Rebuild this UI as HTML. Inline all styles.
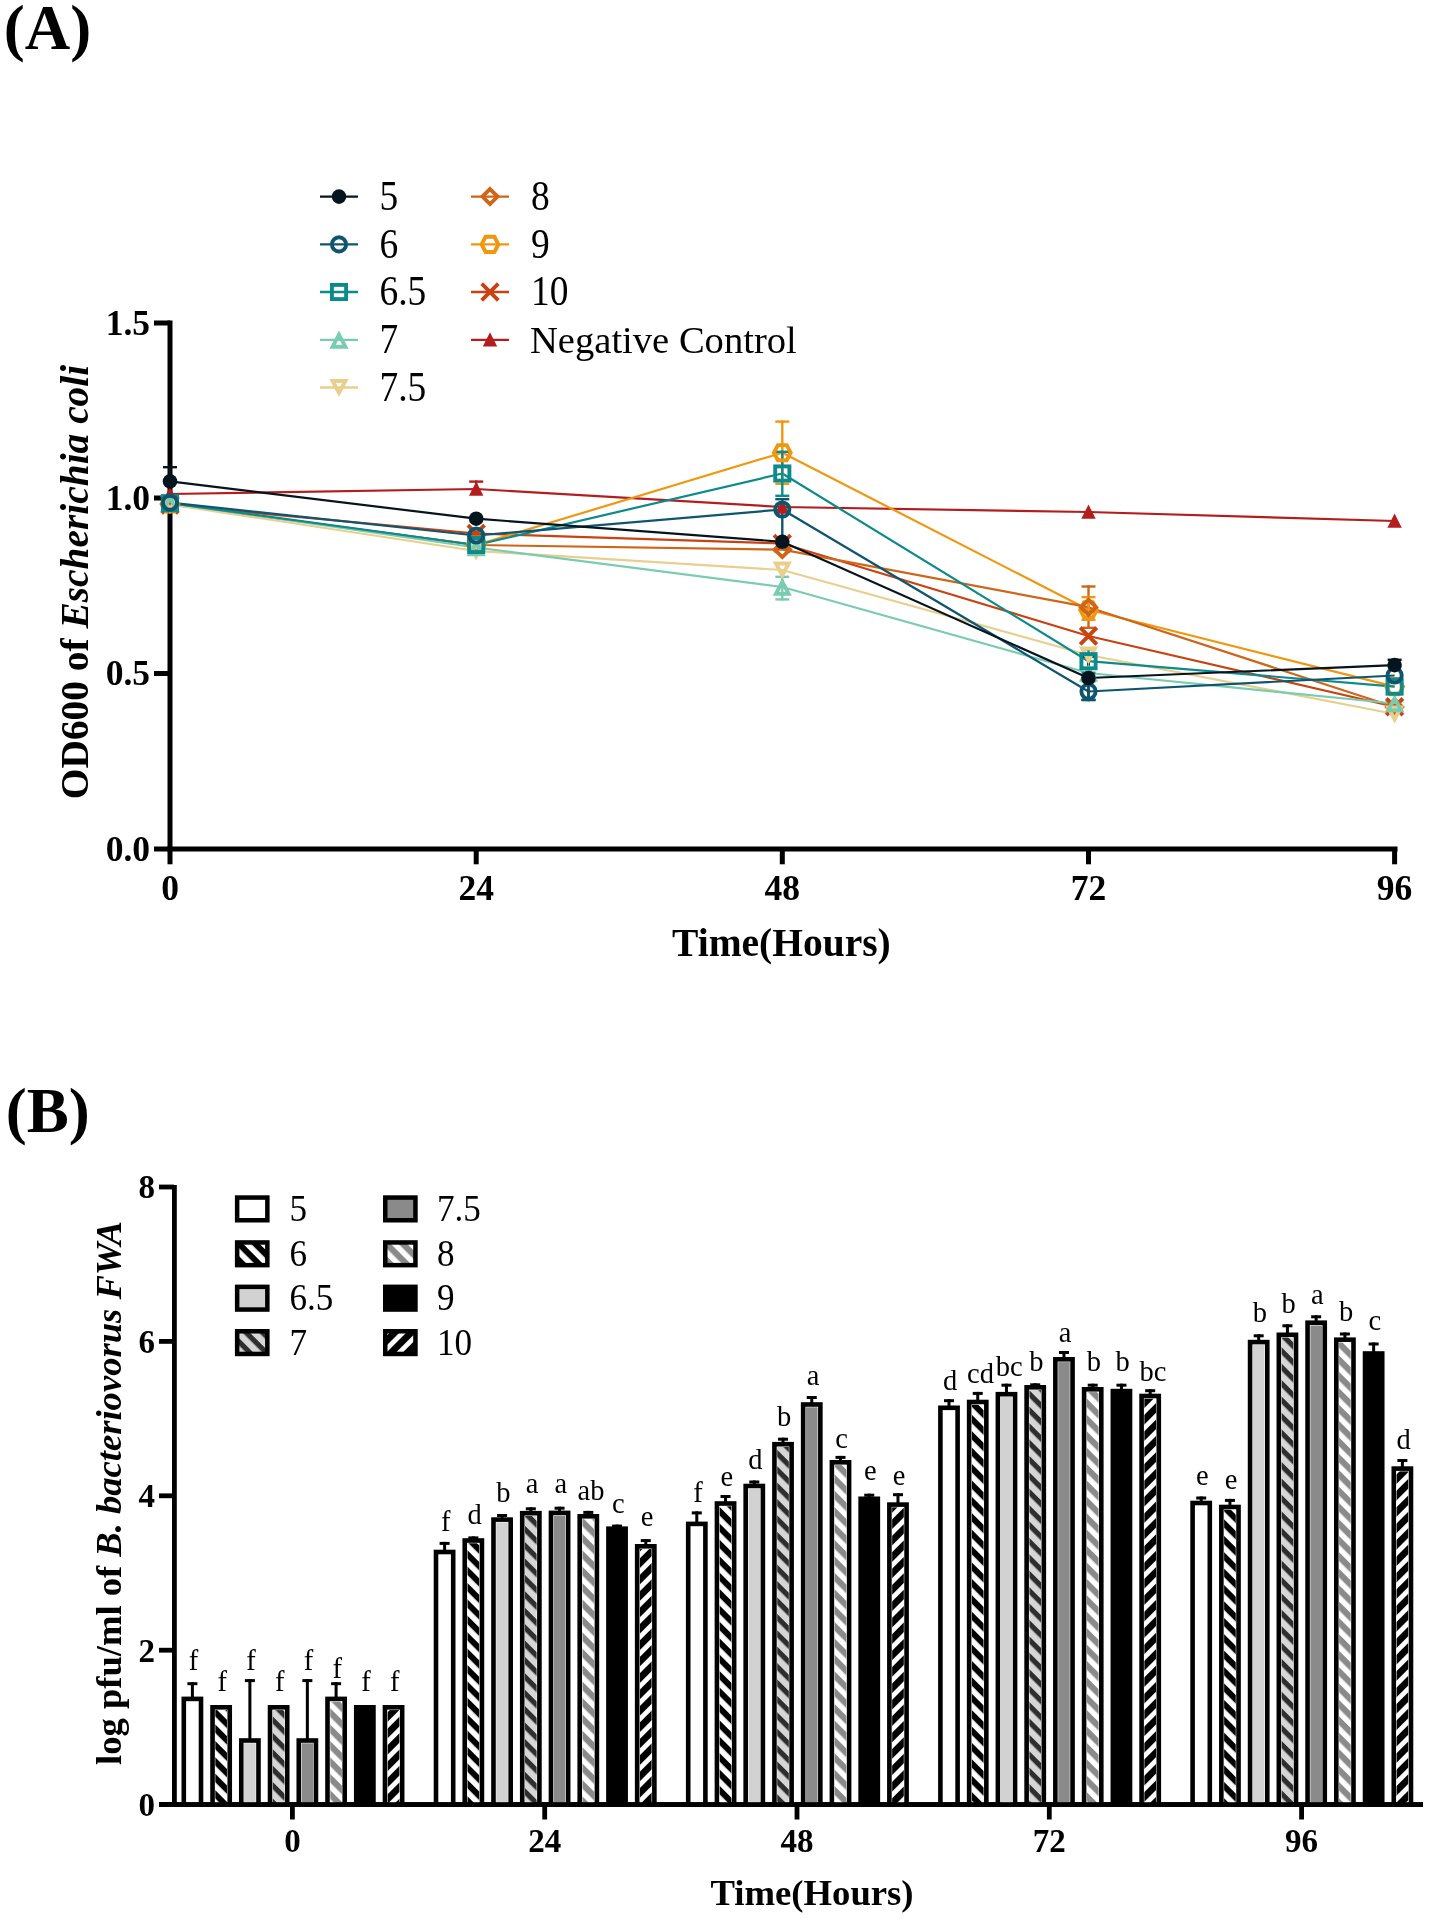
<!DOCTYPE html>
<html><head><meta charset="utf-8"><title>Figure</title>
<style>
html,body{margin:0;padding:0;background:#fff;}
body{width:1429px;height:1919px;overflow:hidden;}
svg{display:block;will-change:transform;}
text{font-family:"Liberation Serif", serif;}
</style></head><body>
<svg width="1429" height="1919" viewBox="0 0 1429 1919">
<defs>
<pattern id="p6" patternUnits="userSpaceOnUse" width="11.6" height="11.6" patternTransform="rotate(45)"><rect width="11.6" height="11.6" fill="#fff"/><rect width="11.6" height="6.0" fill="#000"/></pattern>
<pattern id="p7" patternUnits="userSpaceOnUse" width="11.6" height="11.6" patternTransform="rotate(45)"><rect width="11.6" height="11.6" fill="#d6d6d6"/><rect width="11.6" height="5.2" fill="#2e2e2e"/></pattern>
<pattern id="p8" patternUnits="userSpaceOnUse" width="11.6" height="11.6" patternTransform="rotate(45)"><rect width="11.6" height="11.6" fill="#fff"/><rect width="11.6" height="6.2" fill="#8a8a8a"/></pattern>
<pattern id="p10" patternUnits="userSpaceOnUse" width="11.6" height="11.6" patternTransform="rotate(-45)"><rect width="11.6" height="11.6" fill="#fff"/><rect width="11.6" height="6.8" fill="#000"/></pattern>
</defs>
<rect width="1429" height="1919" fill="#fff"/>

<text x="3.8" y="49.2" font-size="63" font-weight="bold">(A)</text>
<text x="5.8" y="1131.6" font-size="63" font-weight="bold">(B)</text>
<rect x="167.5" y="320.5" width="5" height="531" fill="#000"/>
<rect x="167.5" y="846.5" width="1230" height="5" fill="#000"/>
<rect x="154" y="320.5" width="16" height="5" fill="#000"/>
<rect x="154" y="495.5" width="16" height="5" fill="#000"/>
<rect x="154" y="671.0" width="16" height="5" fill="#000"/>
<rect x="154" y="846.5" width="16" height="5" fill="#000"/>
<rect x="167.5" y="849" width="5" height="15.3" fill="#000"/>
<rect x="473.7" y="849" width="5" height="15.3" fill="#000"/>
<rect x="779.8" y="849" width="5" height="15.3" fill="#000"/>
<rect x="1086.0" y="849" width="5" height="15.3" fill="#000"/>
<rect x="1392.1" y="849" width="5" height="15.3" fill="#000"/>
<text x="150" y="334.5" font-size="35.5" font-weight="bold" text-anchor="end">1.5</text>
<text x="150" y="509.5" font-size="35.5" font-weight="bold" text-anchor="end">1.0</text>
<text x="150" y="685.0" font-size="35.5" font-weight="bold" text-anchor="end">0.5</text>
<text x="150" y="860.5" font-size="35.5" font-weight="bold" text-anchor="end">0.0</text>
<text x="170.0" y="900.2" font-size="35.5" font-weight="bold" text-anchor="middle">0</text>
<text x="476.2" y="900.2" font-size="35.5" font-weight="bold" text-anchor="middle">24</text>
<text x="782.3" y="900.2" font-size="35.5" font-weight="bold" text-anchor="middle">48</text>
<text x="1088.5" y="900.2" font-size="35.5" font-weight="bold" text-anchor="middle">72</text>
<text x="1394.6" y="900.2" font-size="35.5" font-weight="bold" text-anchor="middle">96</text>
<text x="781.4" y="956.2" font-size="39.5" font-weight="bold" text-anchor="middle">Time(Hours)</text>
<text transform="translate(87.5,582) rotate(-90)" font-size="39.4" font-weight="bold" text-anchor="middle">OD600 of <tspan font-style="italic">Escherichia coli</tspan></text>
<polyline points="170.0,494.0 476.2,489.0 782.3,507.0 1088.5,512.0 1394.6,521.0" fill="none" stroke="#b41d1d" stroke-width="2.2" stroke-linejoin="round"/>
<polyline points="170.0,505.0 476.2,533.5 782.3,543.5 1088.5,636.0 1394.6,706.8" fill="none" stroke="#c94212" stroke-width="2.2" stroke-linejoin="round"/>
<polyline points="170.0,504.0 476.2,545.0 782.3,452.7 1088.5,609.8 1394.6,686.6" fill="none" stroke="#f0970f" stroke-width="2.2" stroke-linejoin="round"/>
<polyline points="170.0,504.0 476.2,545.0 782.3,549.6 1088.5,607.2 1394.6,707.0" fill="none" stroke="#cf6519" stroke-width="2.2" stroke-linejoin="round"/>
<polyline points="170.0,504.5 476.2,551.0 782.3,570.0 1088.5,655.0 1394.6,714.0" fill="none" stroke="#e9cf8e" stroke-width="2.2" stroke-linejoin="round"/>
<polyline points="170.0,503.0 476.2,547.5 782.3,587.0 1088.5,673.0 1394.6,703.5" fill="none" stroke="#7accb1" stroke-width="2.2" stroke-linejoin="round"/>
<polyline points="170.0,503.2 476.2,545.0 782.3,473.5 1088.5,661.2 1394.6,686.6" fill="none" stroke="#0c8a8c" stroke-width="2.2" stroke-linejoin="round"/>
<polyline points="170.0,502.6 476.2,535.5 782.3,509.5 1088.5,691.5 1394.6,675.5" fill="none" stroke="#0e5670" stroke-width="2.2" stroke-linejoin="round"/>
<polyline points="170.0,481.4 476.2,518.7 782.3,541.8 1088.5,678.0 1394.6,665.1" fill="none" stroke="#06141e" stroke-width="2.2" stroke-linejoin="round"/>
<line x1="170.0" y1="466.0" x2="170.0" y2="481.4" stroke="#06141e" stroke-width="2.4"/>
<line x1="163.0" y1="467.2" x2="177.0" y2="467.2" stroke="#06141e" stroke-width="2.4"/>
<line x1="476.2" y1="480.4" x2="476.2" y2="489.0" stroke="#b41d1d" stroke-width="2.4"/>
<line x1="469.2" y1="481.59999999999997" x2="483.2" y2="481.59999999999997" stroke="#b41d1d" stroke-width="2.4"/>
<line x1="782.3" y1="420.4" x2="782.3" y2="485.0" stroke="#f0970f" stroke-width="2.4"/>
<line x1="775.3" y1="421.59999999999997" x2="789.3" y2="421.59999999999997" stroke="#f0970f" stroke-width="2.4"/>
<line x1="775.3" y1="483.8" x2="789.3" y2="483.8" stroke="#f0970f" stroke-width="2.4"/>
<line x1="782.3" y1="450.6" x2="782.3" y2="497.0" stroke="#0c8a8c" stroke-width="2.4"/>
<line x1="775.3" y1="451.8" x2="789.3" y2="451.8" stroke="#0c8a8c" stroke-width="2.4"/>
<line x1="775.3" y1="495.8" x2="789.3" y2="495.8" stroke="#0c8a8c" stroke-width="2.4"/>
<line x1="782.3" y1="498.0" x2="782.3" y2="509.5" stroke="#0e5670" stroke-width="2.4"/>
<line x1="775.3" y1="499.2" x2="789.3" y2="499.2" stroke="#0e5670" stroke-width="2.4"/>
<line x1="782.3" y1="509.5" x2="782.3" y2="538.0" stroke="#0e5670" stroke-width="2.4"/>
<line x1="782.3" y1="575.6" x2="782.3" y2="600.6" stroke="#7accb1" stroke-width="2.4"/>
<line x1="775.3" y1="576.8000000000001" x2="789.3" y2="576.8000000000001" stroke="#7accb1" stroke-width="2.4"/>
<line x1="775.3" y1="599.4" x2="789.3" y2="599.4" stroke="#7accb1" stroke-width="2.4"/>
<line x1="1088.5" y1="585.3" x2="1088.5" y2="629.0" stroke="#cf6519" stroke-width="2.4"/>
<line x1="1081.5" y1="586.5" x2="1095.5" y2="586.5" stroke="#cf6519" stroke-width="2.4"/>
<line x1="1081.5" y1="627.8" x2="1095.5" y2="627.8" stroke="#cf6519" stroke-width="2.4"/>
<line x1="1088.5" y1="595.9" x2="1088.5" y2="621.0" stroke="#f0970f" stroke-width="2.4"/>
<line x1="1081.5" y1="597.1" x2="1095.5" y2="597.1" stroke="#f0970f" stroke-width="2.4"/>
<line x1="1081.5" y1="619.8" x2="1095.5" y2="619.8" stroke="#f0970f" stroke-width="2.4"/>
<line x1="1088.5" y1="648.0" x2="1088.5" y2="674.0" stroke="#0c8a8c" stroke-width="2.4"/>
<line x1="1081.5" y1="649.2" x2="1095.5" y2="649.2" stroke="#0c8a8c" stroke-width="2.4"/>
<line x1="1081.5" y1="672.8" x2="1095.5" y2="672.8" stroke="#0c8a8c" stroke-width="2.4"/>
<line x1="1088.5" y1="655.3" x2="1088.5" y2="701.0" stroke="#06141e" stroke-width="2.4"/>
<line x1="1081.5" y1="656.5" x2="1095.5" y2="656.5" stroke="#06141e" stroke-width="2.4"/>
<line x1="1081.5" y1="699.8" x2="1095.5" y2="699.8" stroke="#06141e" stroke-width="2.4"/>
<line x1="1088.5" y1="680.0" x2="1088.5" y2="701.3" stroke="#0e5670" stroke-width="2.4"/>
<line x1="1081.5" y1="681.2" x2="1095.5" y2="681.2" stroke="#0e5670" stroke-width="2.4"/>
<line x1="1081.5" y1="700.0999999999999" x2="1095.5" y2="700.0999999999999" stroke="#0e5670" stroke-width="2.4"/>
<line x1="1394.6" y1="658.6" x2="1394.6" y2="665.1" stroke="#06141e" stroke-width="2.4"/>
<line x1="1387.6" y1="659.8000000000001" x2="1401.6" y2="659.8000000000001" stroke="#06141e" stroke-width="2.4"/>
<path d="M170.0,486.5 L177.2,500.8 L162.8,500.8 Z" fill="#b41d1d"/>
<path d="M476.2,481.5 L483.4,495.8 L469.0,495.8 Z" fill="#b41d1d"/>
<path d="M782.3,499.5 L789.5,513.8 L775.0999999999999,513.8 Z" fill="#b41d1d"/>
<path d="M1088.5,504.5 L1095.7,518.8 L1081.3,518.8 Z" fill="#b41d1d"/>
<path d="M1394.6,513.5 L1401.8,527.8 L1387.3999999999999,527.8 Z" fill="#b41d1d"/>
<path d="M161.7,496.7 L178.3,513.3 M178.3,496.7 L161.7,513.3" stroke="#c94212" stroke-width="3.9"/>
<path d="M467.9,525.2 L484.5,541.8 M484.5,525.2 L467.9,541.8" stroke="#c94212" stroke-width="3.9"/>
<path d="M774.0,535.2 L790.5999999999999,551.8 M790.5999999999999,535.2 L774.0,551.8" stroke="#c94212" stroke-width="3.9"/>
<path d="M1080.2,627.7 L1096.8,644.3 M1096.8,627.7 L1080.2,644.3" stroke="#c94212" stroke-width="3.9"/>
<path d="M1386.3,698.5 L1402.8999999999999,715.0999999999999 M1402.8999999999999,698.5 L1386.3,715.0999999999999" stroke="#c94212" stroke-width="3.9"/>
<path d="M161.6,504.0 L165.6,496.4 L174.4,496.4 L178.4,504.0 L174.4,511.6 L165.6,511.6 Z" fill="none" stroke="#f0970f" stroke-width="3.9"/>
<path d="M467.8,545.0 L471.8,537.4 L480.59999999999997,537.4 L484.59999999999997,545.0 L480.59999999999997,552.6 L471.8,552.6 Z" fill="none" stroke="#f0970f" stroke-width="3.9"/>
<path d="M773.9,452.7 L777.9,445.09999999999997 L786.6999999999999,445.09999999999997 L790.6999999999999,452.7 L786.6999999999999,460.3 L777.9,460.3 Z" fill="none" stroke="#f0970f" stroke-width="3.9"/>
<path d="M1080.1,609.8 L1084.1,602.1999999999999 L1092.9,602.1999999999999 L1096.9,609.8 L1092.9,617.4 L1084.1,617.4 Z" fill="none" stroke="#f0970f" stroke-width="3.9"/>
<path d="M1386.1999999999998,686.6 L1390.1999999999998,679.0 L1399.0,679.0 L1403.0,686.6 L1399.0,694.2 L1390.1999999999998,694.2 Z" fill="none" stroke="#f0970f" stroke-width="3.9"/>
<path d="M170.0,496.5 L177.6,504.0 L170.0,511.5 L162.4,504.0 Z" fill="none" stroke="#cf6519" stroke-width="3.9"/>
<path d="M476.2,537.5 L483.8,545.0 L476.2,552.5 L468.59999999999997,545.0 Z" fill="none" stroke="#cf6519" stroke-width="3.9"/>
<path d="M782.3,542.1 L789.9,549.6 L782.3,557.1 L774.6999999999999,549.6 Z" fill="none" stroke="#cf6519" stroke-width="3.9"/>
<path d="M1088.5,599.7 L1096.1,607.2 L1088.5,614.7 L1080.9,607.2 Z" fill="none" stroke="#cf6519" stroke-width="3.9"/>
<path d="M1394.6,699.5 L1402.1999999999998,707.0 L1394.6,714.5 L1387.0,707.0 Z" fill="none" stroke="#cf6519" stroke-width="3.9"/>
<path d="M170.0,509.9 L176.4,498.0 L163.6,498.0 Z" fill="none" stroke="#e9cf8e" stroke-width="3.9" stroke-linejoin="miter"/>
<path d="M476.2,556.4 L482.59999999999997,544.5 L469.8,544.5 Z" fill="none" stroke="#e9cf8e" stroke-width="3.9" stroke-linejoin="miter"/>
<path d="M782.3,575.4 L788.6999999999999,563.5 L775.9,563.5 Z" fill="none" stroke="#e9cf8e" stroke-width="3.9" stroke-linejoin="miter"/>
<path d="M1088.5,660.4 L1094.9,648.5 L1082.1,648.5 Z" fill="none" stroke="#e9cf8e" stroke-width="3.9" stroke-linejoin="miter"/>
<path d="M1394.6,719.4 L1401.0,707.5 L1388.1999999999998,707.5 Z" fill="none" stroke="#e9cf8e" stroke-width="3.9" stroke-linejoin="miter"/>
<path d="M170.0,497.8 L176.4,509.9 L163.6,509.9 Z" fill="none" stroke="#7accb1" stroke-width="3.9" stroke-linejoin="miter"/>
<path d="M476.2,542.3 L482.59999999999997,554.4 L469.8,554.4 Z" fill="none" stroke="#7accb1" stroke-width="3.9" stroke-linejoin="miter"/>
<path d="M782.3,581.8 L788.6999999999999,593.9 L775.9,593.9 Z" fill="none" stroke="#7accb1" stroke-width="3.9" stroke-linejoin="miter"/>
<path d="M1088.5,667.8 L1094.9,679.9 L1082.1,679.9 Z" fill="none" stroke="#7accb1" stroke-width="3.9" stroke-linejoin="miter"/>
<path d="M1394.6,698.3 L1401.0,710.4 L1388.1999999999998,710.4 Z" fill="none" stroke="#7accb1" stroke-width="3.9" stroke-linejoin="miter"/>
<rect x="162.9" y="496.09999999999997" width="14.2" height="14.2" fill="none" stroke="#0c8a8c" stroke-width="3.9"/>
<rect x="469.09999999999997" y="537.9" width="14.2" height="14.2" fill="none" stroke="#0c8a8c" stroke-width="3.9"/>
<rect x="775.1999999999999" y="466.4" width="14.2" height="14.2" fill="none" stroke="#0c8a8c" stroke-width="3.9"/>
<rect x="1081.4" y="654.1" width="14.2" height="14.2" fill="none" stroke="#0c8a8c" stroke-width="3.9"/>
<rect x="1387.5" y="679.5" width="14.2" height="14.2" fill="none" stroke="#0c8a8c" stroke-width="3.9"/>
<circle cx="170.0" cy="502.6" r="7.1" fill="none" stroke="#0e5670" stroke-width="3.9"/>
<circle cx="476.2" cy="535.5" r="7.1" fill="none" stroke="#0e5670" stroke-width="3.9"/>
<circle cx="782.3" cy="509.5" r="7.1" fill="none" stroke="#0e5670" stroke-width="3.9"/>
<circle cx="1088.5" cy="691.5" r="7.1" fill="none" stroke="#0e5670" stroke-width="3.9"/>
<circle cx="1394.6" cy="675.5" r="7.1" fill="none" stroke="#0e5670" stroke-width="3.9"/>
<circle cx="170.0" cy="481.4" r="7.3" fill="#06141e"/>
<circle cx="476.2" cy="518.7" r="7.3" fill="#06141e"/>
<circle cx="782.3" cy="541.8" r="7.3" fill="#06141e"/>
<circle cx="1088.5" cy="678.0" r="7.3" fill="#06141e"/>
<circle cx="1394.6" cy="665.1" r="7.3" fill="#06141e"/>
<line x1="320" y1="196.6" x2="358" y2="196.6" stroke="#06141e" stroke-width="2.3"/>
<circle cx="339" cy="196.6" r="7.3" fill="#06141e"/>
<text transform="translate(379.5,209.79999999999998) scale(0.97,1.08)" font-size="38.6">5</text>
<line x1="320" y1="244.4" x2="358" y2="244.4" stroke="#0e5670" stroke-width="2.3"/>
<circle cx="339" cy="244.4" r="7.1" fill="none" stroke="#0e5670" stroke-width="3.9"/>
<text transform="translate(379.5,257.6) scale(0.97,1.08)" font-size="38.6">6</text>
<line x1="320" y1="292.0" x2="358" y2="292.0" stroke="#0c8a8c" stroke-width="2.3"/>
<rect x="331.9" y="284.9" width="14.2" height="14.2" fill="none" stroke="#0c8a8c" stroke-width="3.9"/>
<text transform="translate(379.5,305.2) scale(0.97,1.08)" font-size="38.6">6.5</text>
<line x1="320" y1="339.8" x2="358" y2="339.8" stroke="#7accb1" stroke-width="2.3"/>
<path d="M339,334.6 L345.4,346.7 L332.6,346.7 Z" fill="none" stroke="#7accb1" stroke-width="3.9" stroke-linejoin="miter"/>
<text transform="translate(379.5,353.0) scale(0.97,1.08)" font-size="38.6">7</text>
<line x1="320" y1="387.5" x2="358" y2="387.5" stroke="#e9cf8e" stroke-width="2.3"/>
<path d="M339,392.9 L345.4,381.0 L332.6,381.0 Z" fill="none" stroke="#e9cf8e" stroke-width="3.9" stroke-linejoin="miter"/>
<text transform="translate(379.5,400.7) scale(0.97,1.08)" font-size="38.6">7.5</text>
<line x1="471" y1="196.6" x2="509" y2="196.6" stroke="#cf6519" stroke-width="2.3"/>
<path d="M490,189.1 L497.6,196.6 L490,204.1 L482.4,196.6 Z" fill="none" stroke="#cf6519" stroke-width="3.9"/>
<text transform="translate(531,209.79999999999998) scale(0.97,1.08)" font-size="38.6">8</text>
<line x1="471" y1="244.4" x2="509" y2="244.4" stroke="#f0970f" stroke-width="2.3"/>
<path d="M481.6,244.4 L485.6,236.8 L494.4,236.8 L498.4,244.4 L494.4,252.0 L485.6,252.0 Z" fill="none" stroke="#f0970f" stroke-width="3.9"/>
<text transform="translate(531,257.6) scale(0.97,1.08)" font-size="38.6">9</text>
<line x1="471" y1="292.0" x2="509" y2="292.0" stroke="#c94212" stroke-width="2.3"/>
<path d="M481.7,283.7 L498.3,300.3 M498.3,283.7 L481.7,300.3" stroke="#c94212" stroke-width="3.9"/>
<text transform="translate(531,305.2) scale(0.97,1.08)" font-size="38.6">10</text>
<line x1="471" y1="339.8" x2="509" y2="339.8" stroke="#b41d1d" stroke-width="2.3"/>
<path d="M490,332.3 L497.2,346.6 L482.8,346.6 Z" fill="#b41d1d"/>
<text x="530" y="353.0" font-size="38.6">Negative Control</text>
<rect x="172" y="1185" width="4.8" height="622" fill="#000"/>
<rect x="159" y="1802.2" width="1264" height="4.8" fill="#000"/>
<rect x="159" y="1802.1999999999998" width="15" height="4.8" fill="#000"/>
<text x="155" y="1815.8999999999999" font-size="33" font-weight="bold" text-anchor="end">0</text>
<rect x="159" y="1647.7999999999997" width="15" height="4.8" fill="#000"/>
<text x="155" y="1661.4999999999998" font-size="33" font-weight="bold" text-anchor="end">2</text>
<rect x="159" y="1493.3999999999999" width="15" height="4.8" fill="#000"/>
<text x="155" y="1507.1" font-size="33" font-weight="bold" text-anchor="end">4</text>
<rect x="159" y="1338.9999999999998" width="15" height="4.8" fill="#000"/>
<text x="155" y="1352.6999999999998" font-size="33" font-weight="bold" text-anchor="end">6</text>
<rect x="159" y="1184.6" width="15" height="4.8" fill="#000"/>
<text x="155" y="1198.3" font-size="33" font-weight="bold" text-anchor="end">8</text>
<rect x="290.0" y="1805" width="4.8" height="14.5" fill="#000"/>
<text x="292.4" y="1851.6" font-size="33" font-weight="bold" text-anchor="middle">0</text>
<rect x="542.3000000000001" y="1805" width="4.8" height="14.5" fill="#000"/>
<text x="544.7" y="1851.6" font-size="33" font-weight="bold" text-anchor="middle">24</text>
<rect x="794.6" y="1805" width="4.8" height="14.5" fill="#000"/>
<text x="797.0" y="1851.6" font-size="33" font-weight="bold" text-anchor="middle">48</text>
<rect x="1046.9" y="1805" width="4.8" height="14.5" fill="#000"/>
<text x="1049.3000000000002" y="1851.6" font-size="33" font-weight="bold" text-anchor="middle">72</text>
<rect x="1299.1999999999998" y="1805" width="4.8" height="14.5" fill="#000"/>
<text x="1301.6" y="1851.6" font-size="33" font-weight="bold" text-anchor="middle">96</text>
<text x="812" y="1904.5" font-size="36.7" font-weight="bold" text-anchor="middle">Time(Hours)</text>
<text transform="translate(121,1493) rotate(-90)" font-size="36.6" font-weight="bold" text-anchor="middle">log pfu/ml of <tspan font-style="italic">B. bacteriovorus FWA</tspan></text>
<rect x="190.9" y="1682.2" width="3" height="15.399999999999864" fill="#000"/>
<rect x="187.4" y="1682.2" width="10" height="3" fill="#000"/>
<rect x="183.8" y="1698.8999999999999" width="17.200000000000003" height="105.7" fill="#fff" stroke="#000" stroke-width="4.6"/>
<text x="193.6" y="1670" font-size="28.5" text-anchor="middle">f</text>
<rect x="212.54000000000002" y="1707.3" width="17.200000000000003" height="97.29999999999991" fill="#fff" stroke="#000" stroke-width="4.6"/>
<rect x="215.34" y="1710.1" width="11.600000000000001" height="94.49999999999991" fill="url(#p6)"/>
<text x="222.34" y="1691" font-size="28.5" text-anchor="middle">f</text>
<rect x="248.38" y="1679.1" width="3" height="60.100000000000136" fill="#000"/>
<rect x="244.88" y="1679.1" width="10" height="3" fill="#000"/>
<rect x="241.28" y="1740.5" width="17.200000000000003" height="64.09999999999987" fill="#fff" stroke="#000" stroke-width="4.6"/>
<rect x="244.07999999999998" y="1743.3" width="11.600000000000001" height="61.29999999999986" fill="#d2d2d2"/>
<text x="251.07999999999998" y="1670" font-size="28.5" text-anchor="middle">f</text>
<rect x="270.02000000000004" y="1707.3" width="17.200000000000003" height="97.29999999999991" fill="#fff" stroke="#000" stroke-width="4.6"/>
<rect x="272.82000000000005" y="1710.1" width="11.600000000000001" height="94.49999999999991" fill="url(#p7)"/>
<text x="279.82" y="1691" font-size="28.5" text-anchor="middle">f</text>
<rect x="305.85999999999996" y="1679.1" width="3" height="60.100000000000136" fill="#000"/>
<rect x="302.35999999999996" y="1679.1" width="10" height="3" fill="#000"/>
<rect x="298.76" y="1740.5" width="17.200000000000003" height="64.09999999999987" fill="#fff" stroke="#000" stroke-width="4.6"/>
<rect x="301.56" y="1743.3" width="11.600000000000001" height="61.29999999999986" fill="#8a8a8a"/>
<text x="308.55999999999995" y="1670" font-size="28.5" text-anchor="middle">f</text>
<rect x="334.59999999999997" y="1682.2" width="3" height="15.399999999999864" fill="#000"/>
<rect x="331.09999999999997" y="1682.2" width="10" height="3" fill="#000"/>
<rect x="327.5" y="1698.8999999999999" width="17.200000000000003" height="105.7" fill="#fff" stroke="#000" stroke-width="4.6"/>
<rect x="330.3" y="1701.6999999999998" width="11.600000000000001" height="102.9" fill="url(#p8)"/>
<text x="337.29999999999995" y="1677.9" font-size="28.5" text-anchor="middle">f</text>
<rect x="356.24" y="1707.3" width="17.200000000000003" height="97.29999999999991" fill="#000" stroke="#000" stroke-width="4.6"/>
<text x="366.03999999999996" y="1691" font-size="28.5" text-anchor="middle">f</text>
<rect x="384.97999999999996" y="1707.3" width="17.200000000000003" height="97.29999999999991" fill="#fff" stroke="#000" stroke-width="4.6"/>
<rect x="387.78" y="1710.1" width="11.600000000000001" height="94.49999999999991" fill="url(#p10)"/>
<text x="394.7799999999999" y="1691" font-size="28.5" text-anchor="middle">f</text>
<rect x="443.09999999999997" y="1541.9" width="3" height="8.799999999999955" fill="#000"/>
<rect x="439.59999999999997" y="1541.9" width="10" height="3" fill="#000"/>
<rect x="436.0" y="1552.0" width="17.200000000000003" height="252.59999999999985" fill="#fff" stroke="#000" stroke-width="4.6"/>
<text x="445.79999999999995" y="1531" font-size="28.5" text-anchor="middle">f</text>
<rect x="471.84" y="1536.4" width="3" height="2.7999999999999545" fill="#000"/>
<rect x="468.34" y="1536.4" width="10" height="3" fill="#000"/>
<rect x="464.74" y="1540.5" width="17.200000000000003" height="264.09999999999985" fill="#fff" stroke="#000" stroke-width="4.6"/>
<rect x="467.54" y="1543.3" width="11.600000000000001" height="261.29999999999984" fill="url(#p6)"/>
<text x="474.53999999999996" y="1523.7" font-size="28.5" text-anchor="middle">d</text>
<rect x="500.58" y="1514" width="3" height="4.2999999999999545" fill="#000"/>
<rect x="497.08" y="1514" width="10" height="3" fill="#000"/>
<rect x="493.48" y="1519.6" width="17.200000000000003" height="284.99999999999994" fill="#fff" stroke="#000" stroke-width="4.6"/>
<rect x="496.28000000000003" y="1522.3999999999999" width="11.600000000000001" height="282.19999999999993" fill="#d2d2d2"/>
<text x="503.28" y="1501.8" font-size="28.5" text-anchor="middle">b</text>
<rect x="529.3199999999999" y="1507.3" width="3" height="4.600000000000136" fill="#000"/>
<rect x="525.8199999999999" y="1507.3" width="10" height="3" fill="#000"/>
<rect x="522.2199999999999" y="1513.2" width="17.200000000000003" height="291.3999999999998" fill="#fff" stroke="#000" stroke-width="4.6"/>
<rect x="525.02" y="1516.0" width="11.600000000000001" height="288.5999999999998" fill="url(#p7)"/>
<text x="532.02" y="1493.1" font-size="28.5" text-anchor="middle">a</text>
<rect x="558.06" y="1506.7" width="3" height="4.899999999999864" fill="#000"/>
<rect x="554.56" y="1506.7" width="10" height="3" fill="#000"/>
<rect x="550.9599999999999" y="1512.8999999999999" width="17.200000000000003" height="291.7" fill="#fff" stroke="#000" stroke-width="4.6"/>
<rect x="553.76" y="1515.6999999999998" width="11.600000000000001" height="288.9" fill="#8a8a8a"/>
<text x="560.76" y="1493" font-size="28.5" text-anchor="middle">a</text>
<rect x="586.8" y="1510.9" width="3" height="4.099999999999909" fill="#000"/>
<rect x="583.3" y="1510.9" width="10" height="3" fill="#000"/>
<rect x="579.6999999999999" y="1516.3" width="17.200000000000003" height="288.2999999999999" fill="#fff" stroke="#000" stroke-width="4.6"/>
<rect x="582.5" y="1519.1" width="11.600000000000001" height="285.4999999999999" fill="url(#p8)"/>
<text x="591.0" y="1499.7" font-size="28.5" text-anchor="middle">ab</text>
<rect x="615.54" y="1524.6" width="3" height="2.800000000000182" fill="#000"/>
<rect x="612.04" y="1524.6" width="10" height="3" fill="#000"/>
<rect x="608.4399999999999" y="1528.7" width="17.200000000000003" height="275.8999999999998" fill="#000" stroke="#000" stroke-width="4.6"/>
<text x="618.24" y="1512.8" font-size="28.5" text-anchor="middle">c</text>
<rect x="644.28" y="1539.1" width="3" height="5.900000000000091" fill="#000"/>
<rect x="640.78" y="1539.1" width="10" height="3" fill="#000"/>
<rect x="637.18" y="1546.3" width="17.200000000000003" height="258.2999999999999" fill="#fff" stroke="#000" stroke-width="4.6"/>
<rect x="639.98" y="1549.1" width="11.600000000000001" height="255.49999999999991" fill="url(#p10)"/>
<text x="646.98" y="1525.5" font-size="28.5" text-anchor="middle">e</text>
<rect x="695.3" y="1511.4" width="3" height="11.199999999999818" fill="#000"/>
<rect x="691.8" y="1511.4" width="10" height="3" fill="#000"/>
<rect x="688.1999999999999" y="1523.8999999999999" width="17.200000000000003" height="280.7" fill="#fff" stroke="#000" stroke-width="4.6"/>
<text x="698.0" y="1501.9" font-size="28.5" text-anchor="middle">f</text>
<rect x="724.04" y="1495" width="3" height="7.2000000000000455" fill="#000"/>
<rect x="720.54" y="1495" width="10" height="3" fill="#000"/>
<rect x="716.9399999999999" y="1503.5" width="17.200000000000003" height="301.09999999999985" fill="#fff" stroke="#000" stroke-width="4.6"/>
<rect x="719.74" y="1506.3" width="11.600000000000001" height="298.29999999999984" fill="url(#p6)"/>
<text x="726.74" y="1485.5" font-size="28.5" text-anchor="middle">e</text>
<rect x="752.78" y="1480.5" width="3" height="4.2000000000000455" fill="#000"/>
<rect x="749.28" y="1480.5" width="10" height="3" fill="#000"/>
<rect x="745.68" y="1486.0" width="17.200000000000003" height="318.59999999999985" fill="#fff" stroke="#000" stroke-width="4.6"/>
<rect x="748.48" y="1488.8" width="11.600000000000001" height="315.79999999999984" fill="#d2d2d2"/>
<text x="755.48" y="1469.2" font-size="28.5" text-anchor="middle">d</text>
<rect x="781.52" y="1437.7" width="3" height="5.2000000000000455" fill="#000"/>
<rect x="778.02" y="1437.7" width="10" height="3" fill="#000"/>
<rect x="774.42" y="1444.2" width="17.200000000000003" height="360.3999999999998" fill="#fff" stroke="#000" stroke-width="4.6"/>
<rect x="777.22" y="1447.0" width="11.600000000000001" height="357.5999999999998" fill="url(#p7)"/>
<text x="784.22" y="1425.5" font-size="28.5" text-anchor="middle">b</text>
<rect x="810.26" y="1396" width="3" height="7.2000000000000455" fill="#000"/>
<rect x="806.76" y="1396" width="10" height="3" fill="#000"/>
<rect x="803.16" y="1404.5" width="17.200000000000003" height="400.09999999999985" fill="#fff" stroke="#000" stroke-width="4.6"/>
<rect x="805.96" y="1407.3" width="11.600000000000001" height="397.29999999999984" fill="#8a8a8a"/>
<text x="812.96" y="1384.6" font-size="28.5" text-anchor="middle">a</text>
<rect x="838.9999999999999" y="1455.9" width="3" height="5.099999999999909" fill="#000"/>
<rect x="835.4999999999999" y="1455.9" width="10" height="3" fill="#000"/>
<rect x="831.8999999999999" y="1462.3" width="17.200000000000003" height="342.2999999999999" fill="#fff" stroke="#000" stroke-width="4.6"/>
<rect x="834.6999999999999" y="1465.1" width="11.600000000000001" height="339.4999999999999" fill="url(#p8)"/>
<text x="841.6999999999999" y="1448.2" font-size="28.5" text-anchor="middle">c</text>
<rect x="867.7399999999999" y="1493.7" width="3" height="3.7999999999999545" fill="#000"/>
<rect x="864.2399999999999" y="1493.7" width="10" height="3" fill="#000"/>
<rect x="860.6399999999999" y="1498.8" width="17.200000000000003" height="305.7999999999999" fill="#000" stroke="#000" stroke-width="4.6"/>
<text x="870.4399999999999" y="1480.1" font-size="28.5" text-anchor="middle">e</text>
<rect x="896.4799999999999" y="1493.2" width="3" height="10.099999999999909" fill="#000"/>
<rect x="892.9799999999999" y="1493.2" width="10" height="3" fill="#000"/>
<rect x="889.3799999999999" y="1504.6" width="17.200000000000003" height="299.99999999999994" fill="#fff" stroke="#000" stroke-width="4.6"/>
<rect x="892.18" y="1507.3999999999999" width="11.600000000000001" height="297.19999999999993" fill="url(#p10)"/>
<text x="899.18" y="1484.6" font-size="28.5" text-anchor="middle">e</text>
<rect x="947.4999999999999" y="1399.2" width="3" height="7.2999999999999545" fill="#000"/>
<rect x="943.9999999999999" y="1399.2" width="10" height="3" fill="#000"/>
<rect x="940.3999999999999" y="1407.8" width="17.200000000000003" height="396.7999999999999" fill="#fff" stroke="#000" stroke-width="4.6"/>
<text x="950.1999999999999" y="1390" font-size="28.5" text-anchor="middle">d</text>
<rect x="976.2399999999999" y="1391.9" width="3" height="8.799999999999955" fill="#000"/>
<rect x="972.7399999999999" y="1391.9" width="10" height="3" fill="#000"/>
<rect x="969.1399999999999" y="1402.0" width="17.200000000000003" height="402.59999999999985" fill="#fff" stroke="#000" stroke-width="4.6"/>
<rect x="971.9399999999999" y="1404.8" width="11.600000000000001" height="399.79999999999984" fill="url(#p6)"/>
<text x="980.4399999999999" y="1382.8" font-size="28.5" text-anchor="middle">cd</text>
<rect x="1004.9799999999999" y="1383.7" width="3" height="9.200000000000045" fill="#000"/>
<rect x="1001.4799999999999" y="1383.7" width="10" height="3" fill="#000"/>
<rect x="997.8799999999999" y="1394.2" width="17.200000000000003" height="410.3999999999998" fill="#fff" stroke="#000" stroke-width="4.6"/>
<rect x="1000.68" y="1397.0" width="11.600000000000001" height="407.5999999999998" fill="#d2d2d2"/>
<text x="1009.18" y="1375.5" font-size="28.5" text-anchor="middle">bc</text>
<rect x="1033.72" y="1383.3" width="3" height="2.7000000000000455" fill="#000"/>
<rect x="1030.22" y="1383.3" width="10" height="3" fill="#000"/>
<rect x="1026.62" y="1387.3" width="17.200000000000003" height="417.2999999999999" fill="#fff" stroke="#000" stroke-width="4.6"/>
<rect x="1029.4199999999998" y="1390.1" width="11.600000000000001" height="414.4999999999999" fill="url(#p7)"/>
<text x="1036.42" y="1371" font-size="28.5" text-anchor="middle">b</text>
<rect x="1062.46" y="1351" width="3" height="7" fill="#000"/>
<rect x="1058.96" y="1351" width="10" height="3" fill="#000"/>
<rect x="1055.36" y="1359.3" width="17.200000000000003" height="445.2999999999999" fill="#fff" stroke="#000" stroke-width="4.6"/>
<rect x="1058.1599999999999" y="1362.1" width="11.600000000000001" height="442.4999999999999" fill="#8a8a8a"/>
<text x="1065.16" y="1341.8" font-size="28.5" text-anchor="middle">a</text>
<rect x="1091.2" y="1383.7" width="3" height="4.2999999999999545" fill="#000"/>
<rect x="1087.7" y="1383.7" width="10" height="3" fill="#000"/>
<rect x="1084.1" y="1389.3" width="17.200000000000003" height="415.2999999999999" fill="#fff" stroke="#000" stroke-width="4.6"/>
<rect x="1086.8999999999999" y="1392.1" width="11.600000000000001" height="412.4999999999999" fill="url(#p8)"/>
<text x="1093.9" y="1371" font-size="28.5" text-anchor="middle">b</text>
<rect x="1119.94" y="1383.7" width="3" height="6.099999999999909" fill="#000"/>
<rect x="1116.44" y="1383.7" width="10" height="3" fill="#000"/>
<rect x="1112.84" y="1391.1" width="17.200000000000003" height="413.49999999999994" fill="#000" stroke="#000" stroke-width="4.6"/>
<text x="1122.64" y="1371" font-size="28.5" text-anchor="middle">b</text>
<rect x="1148.68" y="1389.2" width="3" height="5.5" fill="#000"/>
<rect x="1145.18" y="1389.2" width="10" height="3" fill="#000"/>
<rect x="1141.58" y="1396.0" width="17.200000000000003" height="408.59999999999985" fill="#fff" stroke="#000" stroke-width="4.6"/>
<rect x="1144.3799999999999" y="1398.8" width="11.600000000000001" height="405.79999999999984" fill="url(#p10)"/>
<text x="1152.88" y="1381" font-size="28.5" text-anchor="middle">bc</text>
<rect x="1199.7" y="1496.5" width="3" height="5.2000000000000455" fill="#000"/>
<rect x="1196.2" y="1496.5" width="10" height="3" fill="#000"/>
<rect x="1192.6" y="1503.0" width="17.200000000000003" height="301.59999999999985" fill="#fff" stroke="#000" stroke-width="4.6"/>
<text x="1202.4" y="1484.8" font-size="28.5" text-anchor="middle">e</text>
<rect x="1228.44" y="1498.9" width="3" height="6.7999999999999545" fill="#000"/>
<rect x="1224.94" y="1498.9" width="10" height="3" fill="#000"/>
<rect x="1221.34" y="1507.0" width="17.200000000000003" height="297.59999999999985" fill="#fff" stroke="#000" stroke-width="4.6"/>
<rect x="1224.1399999999999" y="1509.8" width="11.600000000000001" height="294.79999999999984" fill="url(#p6)"/>
<text x="1231.14" y="1489.3" font-size="28.5" text-anchor="middle">e</text>
<rect x="1257.18" y="1334.3" width="3" height="6.5" fill="#000"/>
<rect x="1253.68" y="1334.3" width="10" height="3" fill="#000"/>
<rect x="1250.08" y="1342.1" width="17.200000000000003" height="462.49999999999994" fill="#fff" stroke="#000" stroke-width="4.6"/>
<rect x="1252.8799999999999" y="1344.8999999999999" width="11.600000000000001" height="459.69999999999993" fill="#d2d2d2"/>
<text x="1259.88" y="1321.6" font-size="28.5" text-anchor="middle">b</text>
<rect x="1285.92" y="1324.3" width="3" height="9.200000000000045" fill="#000"/>
<rect x="1282.42" y="1324.3" width="10" height="3" fill="#000"/>
<rect x="1278.82" y="1334.8" width="17.200000000000003" height="469.7999999999999" fill="#fff" stroke="#000" stroke-width="4.6"/>
<rect x="1281.62" y="1337.6" width="11.600000000000001" height="466.9999999999999" fill="url(#p7)"/>
<text x="1288.6200000000001" y="1312.6" font-size="28.5" text-anchor="middle">b</text>
<rect x="1314.66" y="1315.3" width="3" height="6.100000000000136" fill="#000"/>
<rect x="1311.16" y="1315.3" width="10" height="3" fill="#000"/>
<rect x="1307.56" y="1322.7" width="17.200000000000003" height="481.8999999999998" fill="#fff" stroke="#000" stroke-width="4.6"/>
<rect x="1310.36" y="1325.5" width="11.600000000000001" height="479.0999999999998" fill="#8a8a8a"/>
<text x="1317.3600000000001" y="1304.4" font-size="28.5" text-anchor="middle">a</text>
<rect x="1343.4" y="1332.5" width="3" height="5.900000000000091" fill="#000"/>
<rect x="1339.9" y="1332.5" width="10" height="3" fill="#000"/>
<rect x="1336.3" y="1339.7" width="17.200000000000003" height="464.8999999999998" fill="#fff" stroke="#000" stroke-width="4.6"/>
<rect x="1339.1" y="1342.5" width="11.600000000000001" height="462.0999999999998" fill="url(#p8)"/>
<text x="1346.1000000000001" y="1320.7" font-size="28.5" text-anchor="middle">b</text>
<rect x="1372.14" y="1342.5" width="3" height="9.700000000000045" fill="#000"/>
<rect x="1368.64" y="1342.5" width="10" height="3" fill="#000"/>
<rect x="1365.04" y="1353.5" width="17.200000000000003" height="451.09999999999985" fill="#000" stroke="#000" stroke-width="4.6"/>
<text x="1374.8400000000001" y="1329.8" font-size="28.5" text-anchor="middle">c</text>
<rect x="1400.88" y="1459" width="3" height="8.299999999999955" fill="#000"/>
<rect x="1397.38" y="1459" width="10" height="3" fill="#000"/>
<rect x="1393.78" y="1468.6" width="17.200000000000003" height="335.99999999999994" fill="#fff" stroke="#000" stroke-width="4.6"/>
<rect x="1396.58" y="1471.3999999999999" width="11.600000000000001" height="333.19999999999993" fill="url(#p10)"/>
<text x="1403.5800000000002" y="1448.5" font-size="28.5" text-anchor="middle">d</text>
<rect x="159" y="1802.2" width="1264" height="4.8" fill="#000"/>
<rect x="237.15" y="1197.55" width="30.200000000000003" height="22.7" fill="#fff" stroke="#000" stroke-width="4.5"/>
<text transform="translate(289.5,1221.1) scale(0.95,1)" font-size="37">5</text>
<rect x="385.25" y="1197.55" width="30.200000000000003" height="22.7" fill="#8a8a8a" stroke="#000" stroke-width="4.5"/>
<text transform="translate(437.0,1221.1) scale(0.95,1)" font-size="37">7.5</text>
<rect x="237.15" y="1242.45" width="30.200000000000003" height="22.7" fill="url(#p6)" stroke="#000" stroke-width="4.5"/>
<text transform="translate(289.5,1266.0) scale(0.95,1)" font-size="37">6</text>
<rect x="385.25" y="1242.45" width="30.200000000000003" height="22.7" fill="url(#p8)" stroke="#000" stroke-width="4.5"/>
<text transform="translate(437.0,1266.0) scale(0.95,1)" font-size="37">8</text>
<rect x="237.15" y="1286.85" width="30.200000000000003" height="22.7" fill="#d2d2d2" stroke="#000" stroke-width="4.5"/>
<text transform="translate(289.5,1310.3999999999999) scale(0.95,1)" font-size="37">6.5</text>
<rect x="385.25" y="1286.85" width="30.200000000000003" height="22.7" fill="#000" stroke="#000" stroke-width="4.5"/>
<text transform="translate(437.0,1310.3999999999999) scale(0.95,1)" font-size="37">9</text>
<rect x="237.15" y="1331.25" width="30.200000000000003" height="22.7" fill="url(#p7)" stroke="#000" stroke-width="4.5"/>
<text transform="translate(289.5,1354.8) scale(0.95,1)" font-size="37">7</text>
<rect x="385.25" y="1331.25" width="30.200000000000003" height="22.7" fill="url(#p10)" stroke="#000" stroke-width="4.5"/>
<text transform="translate(437.0,1354.8) scale(0.95,1)" font-size="37">10</text>
</svg></body></html>
